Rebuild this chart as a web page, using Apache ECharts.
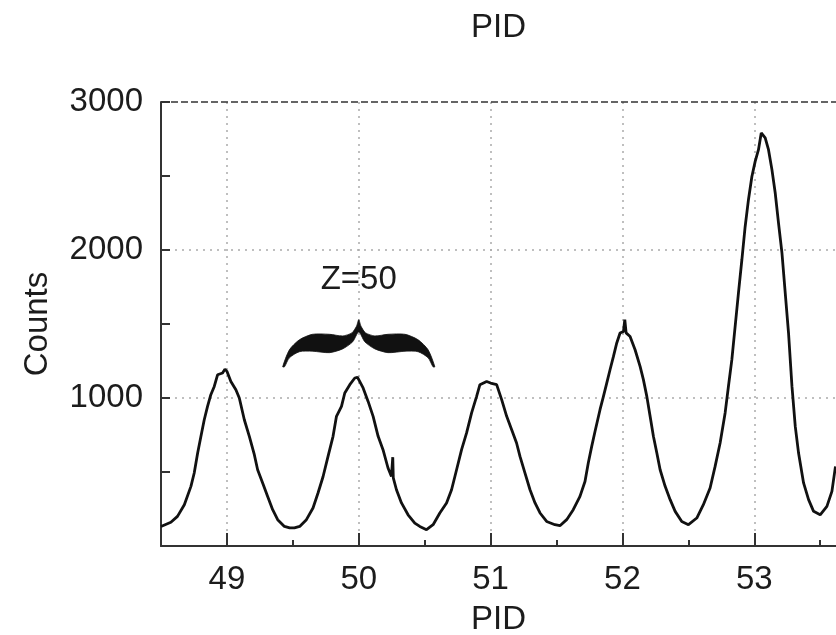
<!DOCTYPE html>
<html>
<head>
<meta charset="utf-8">
<script src="https://cdn.jsdelivr.net/npm/echarts@6/dist/echarts.min.js"></script>
<style>
html,body{margin:0;padding:0;background:#fff;}
#chart{width:836px;height:635px;}
</style>
</head>
<body>
<div id="chart"></div>
<script>
// ---- data ----
var pid = [48.500,48.575,48.625,48.677,48.727,48.752,48.778,48.803,48.828,48.853,48.878,48.904,48.929,48.967,48.985,49.000,49.030,49.068,49.094,49.132,49.170,49.208,49.233,49.271,49.309,49.347,49.385,49.436,49.476,49.512,49.552,49.603,49.653,49.691,49.729,49.767,49.805,49.831,49.869,49.894,49.932,49.970,49.990,50.000,50.033,50.071,50.109,50.147,50.184,50.222,50.248,50.258,50.262,50.286,50.324,50.374,50.425,50.463,50.514,50.564,50.615,50.666,50.704,50.742,50.780,50.818,50.856,50.894,50.919,50.970,51.000,51.046,51.084,51.122,51.160,51.197,51.223,51.261,51.299,51.337,51.375,51.425,51.488,51.526,51.577,51.627,51.678,51.716,51.741,51.767,51.792,51.830,51.856,51.881,51.906,51.932,51.957,51.982,52.008,52.018,52.028,52.058,52.096,52.134,52.159,52.185,52.210,52.235,52.261,52.286,52.324,52.362,52.400,52.450,52.501,52.564,52.614,52.665,52.703,52.741,52.779,52.804,52.830,52.855,52.880,52.906,52.931,52.956,52.982,53.007,53.032,53.053,53.083,53.108,53.134,53.159,53.184,53.210,53.235,53.260,53.286,53.311,53.336,53.374,53.412,53.450,53.500,53.551,53.589,53.616];
var counts = [132,160,200,279,403,493,628,741,853,943,1022,1078,1157,1169,1195,1180,1112,1056,1000,853,741,617,515,426,335,245,178,132,122,122,132,178,257,358,468,605,741,876,943,1034,1090,1135,1140,1124,1068,977,876,741,651,527,470,600,460,380,291,211,155,132,110,144,223,291,380,515,651,764,899,1011,1090,1112,1101,1090,989,876,786,696,605,493,380,291,223,166,144,137,178,245,335,436,561,673,774,921,1011,1101,1191,1281,1372,1439,1450,1529,1440,1416,1326,1214,1124,1011,876,741,628,515,403,313,234,166,144,189,279,392,538,696,899,1078,1259,1484,1709,1934,2159,2340,2497,2599,2678,2791,2757,2678,2543,2385,2182,1980,1709,1439,1078,808,628,426,313,234,211,268,369,538];

var xRange = [48.5, 53.62];
var yRange = [0, 3000];
var xMajorTicks = [49, 50, 51, 52, 53];
var xMinorTicks = [49.5, 50.5, 51.5, 52.5, 53.5];
var yGridTicks = [1000, 2000];
var yOtherTicks = [500, 1500, 2500, 3000];
var yLabels = [1000, 2000, 3000];
var topLineValue = 3000;

var titleText = 'PID';
var xName = 'PID';
var yName = 'Counts';

var braceX = [49.423, 50.577];   // brace ends
var braceY = [1211, 1529];       // brace tips level, apex level
var braceLabel = 'Z=50';
var braceLabelPos = [50.0, 1797];

var series = pid.map(function (p, i) { return [p, counts[i]]; });

// ---- chart ----
var FONT = '"Liberation Sans", Arial, Helvetica, sans-serif';
var TXT = '#1c1c1c';
var AX = '#333333';
var FS = 33;
var chart = echarts.init(document.getElementById('chart'), null, {renderer: 'canvas'});

// brace outline in normalised coords (u across, v up from tips to apex)
var braceTop = [[0,0],[0.044,0.36],[0.110,0.574],[0.196,0.69],[0.308,0.69],[0.394,0.655],[0.455,0.72],[0.485,0.86],[0.5,1.0]];
var braceBottom = [[0.5,0.74],[0.46,0.53],[0.394,0.38],[0.308,0.30],[0.196,0.33],[0.110,0.32],[0.044,0.19],[0.012,0]];

chart.setOption({
  animation: false,
  backgroundColor: '#ffffff',
  grid: {left: 161, right: 0, top: 102, bottom: 89, containLabel: false, outerBoundsMode: 'none'},
  xAxis: [
    {
      type: 'value', position: 'bottom', min: xRange[0], max: xRange[1],
      name: xName, nameLocation: 'middle', nameGap: 57,
      nameTextStyle: {fontSize: FS, color: TXT, fontFamily: FONT},
      axisLine: {show: true, onZero: false, lineStyle: {color: AX, width: 2}},
      axisTick: {show: true, inside: true, length: 13, customValues: xMajorTicks, lineStyle: {color: AX, width: 2}},
      axisLabel: {show: true, customValues: xMajorTicks, margin: 17, fontSize: FS, color: TXT, fontFamily: FONT,
                  formatter: function (v) { return String(v); }},
      splitLine: {show: true, lineStyle: {color: '#aaaaaa', type: [2, 5], width: 1.5}}
    },
    {
      type: 'value', position: 'bottom', min: xRange[0], max: xRange[1],
      axisLine: {show: false},
      axisTick: {show: true, inside: true, length: 6, customValues: xMinorTicks, lineStyle: {color: AX, width: 2}},
      axisLabel: {show: false},
      splitLine: {show: false}
    },
    {
      type: 'value', position: 'top', min: xRange[0], max: xRange[1],
      name: titleText, nameLocation: 'middle', nameGap: 58,
      nameTextStyle: {fontSize: FS, color: TXT, fontFamily: FONT},
      axisLine: {show: false}, axisTick: {show: false}, axisLabel: {show: false}, splitLine: {show: false}
    }
  ],
  yAxis: [
    {
      type: 'value', position: 'left', min: yRange[0], max: yRange[1],
      name: yName, nameLocation: 'middle', nameGap: 107,
      nameTextStyle: {fontSize: FS, color: TXT, fontFamily: FONT},
      axisLine: {show: true, onZero: false, lineStyle: {color: AX, width: 2}},
      axisTick: {show: true, inside: true, length: 9, customValues: yGridTicks, lineStyle: {color: AX, width: 2}},
      axisLabel: {show: true, customValues: yLabels, margin: 18, fontSize: FS, color: TXT, fontFamily: FONT,
                  formatter: function (v) { return String(v); }},
      splitLine: {show: true, lineStyle: {color: '#aaaaaa', type: [2, 5], width: 1.5}}
    },
    {
      type: 'value', position: 'left', min: yRange[0], max: yRange[1],
      axisLine: {show: false},
      axisTick: {show: true, inside: true, length: 9, customValues: yOtherTicks, lineStyle: {color: AX, width: 2}},
      axisLabel: {show: false},
      splitLine: {show: false}
    }
  ],
  series: [
    {
      type: 'line', xAxisIndex: 0, yAxisIndex: 0,
      data: series, showSymbol: false, symbol: 'none',
      lineStyle: {color: '#111111', width: 2.8},
      markLine: {
        silent: true, symbol: ['none', 'none'], label: {show: false},
        lineStyle: {color: '#333333', type: [7, 3], width: 1.5},
        data: [{yAxis: topLineValue}]
      }
    },
    {
      type: 'custom', xAxisIndex: 0, yAxisIndex: 0, silent: true,
      data: [[braceX[0], braceX[1], braceY[0], braceY[1], braceLabelPos[0], braceLabelPos[1]]],
      renderItem: function (params, api) {
        var x0 = api.value(0), x1 = api.value(1), yb = api.value(2), yt = api.value(3);
        var pL = api.coord([x0, yb]);
        var pR = api.coord([x1, yb]);
        var pA = api.coord([(x0 + x1) / 2, yt]);
        var pT = api.coord([api.value(4), api.value(5)]);
        var w = pR[0] - pL[0], h = pL[1] - pA[1];
        function P(u, v) { return [pL[0] + u * w, pL[1] - v * h]; }
        var pts = [];
        braceTop.forEach(function (q) { pts.push(P(q[0], q[1])); });
        for (var i = braceTop.length - 2; i >= 0; i--) { pts.push(P(1 - braceTop[i][0], braceTop[i][1])); }
        for (var j = braceBottom.length - 1; j >= 1; j--) { pts.push(P(1 - braceBottom[j][0], braceBottom[j][1])); }
        braceBottom.forEach(function (q) { pts.push(P(q[0], q[1])); });
        return {
          type: 'group',
          children: [
            {type: 'polygon', shape: {points: pts, smooth: 0.25}, style: {fill: '#111111', stroke: '#111111', lineWidth: 0.8}},
            {type: 'text', x: pT[0], y: pT[1], style: {text: braceLabel, fontSize: FS, fontFamily: FONT, fill: TXT, align: 'center', verticalAlign: 'middle'}}
          ]
        };
      }
    }
  ]
});
</script>
</body>
</html>
